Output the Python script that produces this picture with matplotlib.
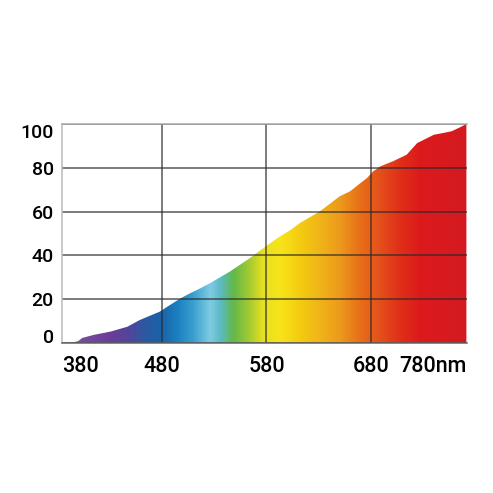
import numpy as np
import matplotlib
matplotlib.use("Agg")
import matplotlib.pyplot as plt
from matplotlib.colors import LinearSegmentedColormap

plt.rcParams['font.family'] = ['Roboto', 'DejaVu Sans']
plt.rcParams['font.weight'] = 'medium'

# spectrum (nm, relative intensity %)
wavelength = [385, 395, 400, 404, 415, 431, 447, 459, 478, 488, 498, 507, 517, 526,
              545, 564, 581, 593, 603, 612, 631, 650, 660, 670, 676, 682, 689, 701,
              714, 724, 740, 749, 757, 765, 771]
intensity = [0, 0.3, 0.8, 2.3, 3.7, 5.2, 7.4, 10.5, 14.3, 17.4, 20.4, 22.7, 25, 27.3,
             32.6, 38.7, 44.7, 48.7, 51.6, 54.8, 60.1, 67, 69.3, 73.1, 75.3, 78.4, 80.7,
             83, 86, 91.3, 95.1, 95.9, 96.7, 98.5, 100]

y_ticks = [0, 20, 40, 60, 80, 100]
grid_x = [480, 580, 680]
x_labels = ['380', '480', '580', '680', '780nm']

x_min, x_max = 384.7, 771.3

# rainbow colours along the x axis
stops = [(0.0, '#8a6cb0'), (0.044, '#7a4b9e'), (0.119, '#6a3e98'), (0.161, '#53459a'),
         (0.200, '#2e57a0'), (0.242, '#1a62a8'), (0.284, '#1c7fbf'), (0.324, '#3aa0d0'),
         (0.366, '#80cbe2'), (0.390, '#5bbbc8'), (0.423, '#62b84a'), (0.465, '#a8cc30'),
         (0.497, '#e8e020'), (0.539, '#f7e41a'), (0.588, '#f4cc10'), (0.638, '#f0b418'),
         (0.687, '#ec9a1c'), (0.736, '#e87018'), (0.786, '#e4501c'), (0.835, '#e03018'),
         (0.885, '#dc1a1c'), (1.0, '#d41a20')]
cmap = LinearSegmentedColormap.from_list('spec', stops)

fig = plt.figure(figsize=(4.93, 4.93), dpi=100)
ax = fig.add_axes([62 / 493, 1 - 343 / 493, 404.7 / 493, 219 / 493])

poly = ax.fill_between(wavelength, intensity, 0, color='none', lw=0)
grad = np.linspace(0, 1, 512).reshape(1, -1)
img = ax.imshow(grad, cmap=cmap, extent=(x_min, x_max, 0, 100), aspect='auto',
                origin='lower', zorder=1)
img.set_clip_path(poly.get_paths()[0], transform=ax.transData)

ax.set_xlim(x_min, x_max)
ax.set_ylim(0, 100)

ax.set_yticks(y_ticks)
ax.set_yticklabels([str(v) for v in y_ticks], fontsize=14)
ax.tick_params(axis='y', length=0, pad=6)
ylabs = ax.get_yticklabels()
ylabs[0].set_va('baseline')
ylabs[-1].set_va('top')

ax.set_xticks(grid_x)
ax.set_xticklabels(x_labels[1:4], fontsize=15.5)
ax.set_xticks([x_min + 0.01, x_max - 0.01], [x_labels[0], x_labels[-1]], minor=True)
ax.tick_params(axis='x', which='both', length=0, pad=9, labelsize=15.5)
mins = ax.xaxis.get_minorticklabels()
mins[0].set_ha('left')
mins[1].set_ha('right')

ax.grid(True, which='major', color='#2a2a2a', alpha=0.72, lw=1.2, zorder=3)
ax.set_axisbelow(False)

ax.spines['right'].set_visible(False)
ax.spines['left'].set_color('#bbbbbb')
ax.spines['top'].set_color('#aaaaaa')
ax.spines['bottom'].set_color('#666666')
for s in ax.spines.values():
    s.set_linewidth(1.1)
    s.set_zorder(4)

fig.savefig('out.png', dpi=100, facecolor='white')
